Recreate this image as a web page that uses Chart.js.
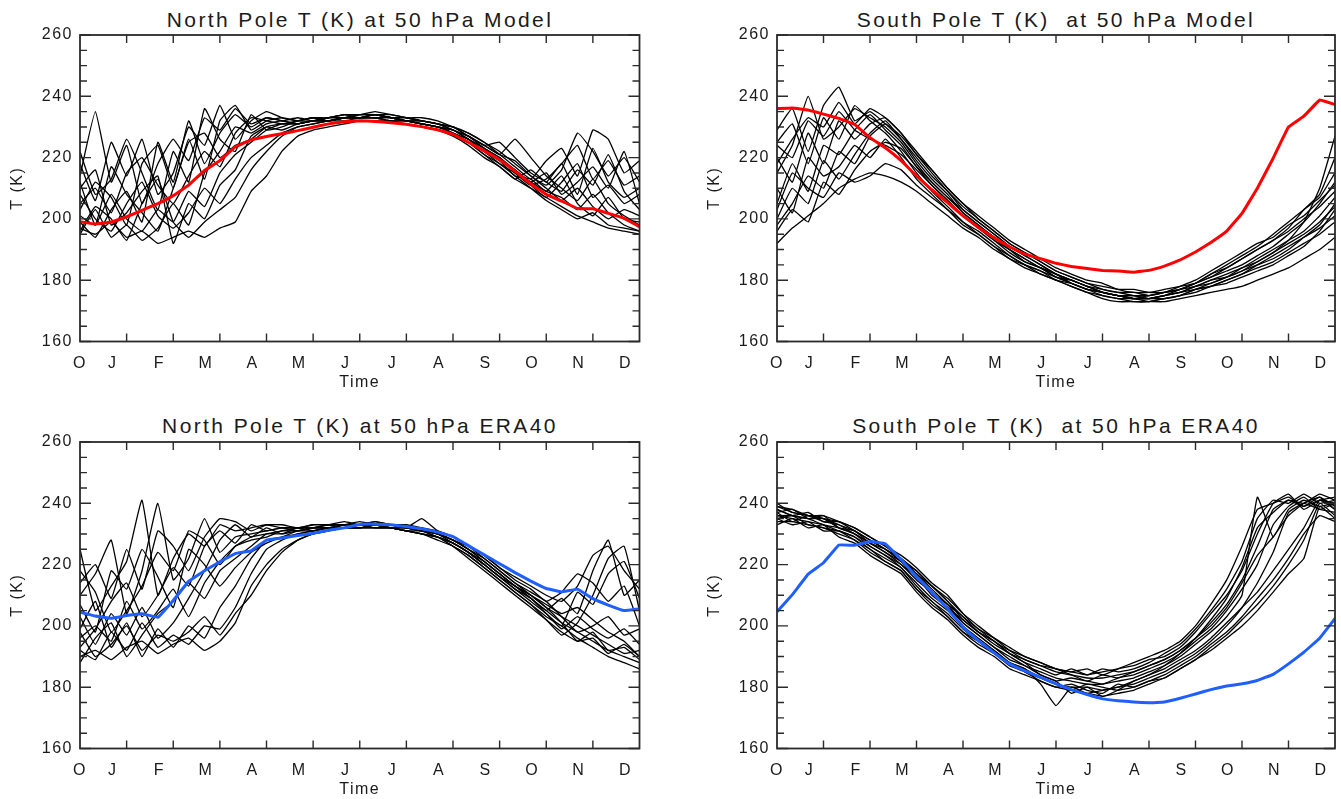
<!DOCTYPE html>
<html>
<head>
<meta charset="utf-8">
<script src="https://cdn.jsdelivr.net/npm/chart.js@4.4.1/dist/chart.umd.min.js"></script>
<style>
  body { margin: 0; width: 1341px; height: 799px; background: #fff; position: relative; overflow: hidden;
         font-family: "Liberation Sans", Arial, sans-serif; }
  .panel { position: absolute; }
  .title { position: absolute; width: 600px; margin-left: -300px; text-align: center; white-space: pre;
           font-size: 21px; line-height: 21px; letter-spacing: 2.4px; color: #1a1a1a; }
</style>
</head>
<body>
<div class="title" style="left:360px;top:9px">North Pole T (K) at 50 hPa Model</div>
<div class="title" style="left:1056px;top:9px">South Pole T (K)  at 50 hPa Model</div>
<div class="title" style="left:360px;top:415px">North Pole T (K) at 50 hPa ERA40</div>
<div class="title" style="left:1056px;top:415px">South Pole T (K)  at 50 hPa ERA40</div>
<canvas class="panel" id="npModel" width="660" height="392" style="left:0;top:0"></canvas>
<canvas class="panel" id="spModel" width="644" height="392" style="left:697px;top:0"></canvas>
<canvas class="panel" id="npEra" width="660" height="392" style="left:0;top:407px"></canvas>
<canvas class="panel" id="spEra" width="644" height="392" style="left:697px;top:407px"></canvas>
<script>
// x in months since the start of the axis, one value every third of a month
const monthGrid = [0, 0.33, 0.67, 1, 1.33, 1.67, 2, 2.33, 2.67, 3, 3.33, 3.67, 4, 4.33, 4.67, 5, 5.33, 5.67,
  6, 6.33, 6.67, 7, 7.33, 7.67, 8, 8.33, 8.67, 9, 9.33, 9.67, 10, 10.33, 10.67, 11, 11.33, 11.67, 12];
const monthLabels = ['O', 'J', 'F', 'M', 'A', 'M', 'J', 'J', 'A', 'S', 'O', 'N', 'D'];
const yTicks = [160, 180, 200, 220, 240, 260];

// North Pole, model
const npModelRed = [199.1, 198.3, 199.0, 200.7, 202.8, 205.0, 207.6, 211.0, 215.8, 219.0,
  223.5, 225.8, 226.9, 227.8, 228.8, 229.9, 231.0, 231.7, 232.0, 231.8,
  231.4, 230.9, 230.1, 229.1, 227.6, 225.0, 222.2, 219.3, 215.6, 211.4,
  208.0, 205.8, 203.4, 203.3, 201.8, 200.2, 197.5];
const npModelMembers = [
  [214, 235, 212, 224, 205, 218, 226, 219, 233, 229, 236, 231, 233, 232, 231, 232, 232, 233, 233, 234, 233, 232, 232, 231, 230, 228, 225, 222, 218, 214, 211, 216, 228, 222, 214, 220, 212],
  [197, 195, 199, 194, 196, 192, 194, 196, 194, 197, 199, 209, 214, 222, 227, 229, 230, 231, 232, 232, 232, 231, 230, 229, 227, 224, 220, 217, 213, 210, 207, 204, 201, 199, 197, 196, 195],
  [205, 210, 202, 215, 220, 211, 205, 214, 222, 217, 228, 233, 232, 231, 232, 233, 233, 234, 234, 235, 234, 233, 232, 231, 229, 227, 224, 221, 226, 220, 214, 210, 206, 213, 205, 201, 198],
  [201, 198, 208, 200, 196, 203, 199, 209, 204, 215, 221, 225, 229, 231, 231, 232, 233, 233, 233, 234, 233, 232, 231, 230, 228, 226, 223, 219, 216, 212, 209, 207, 203, 208, 202, 198, 196],
  [218, 206, 225, 214, 226, 208, 215, 230, 224, 237, 226, 232, 235, 233, 232, 233, 232, 233, 234, 234, 233, 233, 232, 231, 230, 227, 224, 221, 217, 213, 219, 223, 214, 229, 226, 215, 219],
  [208, 200, 196, 205, 212, 201, 197, 202, 210, 205, 213, 220, 224, 228, 230, 231, 232, 232, 233, 233, 233, 232, 231, 230, 229, 226, 222, 218, 215, 211, 207, 212, 218, 207, 211, 205, 208],
  [195, 203, 194, 198, 193, 197, 205, 198, 215, 222, 230, 228, 231, 232, 231, 232, 233, 233, 234, 234, 234, 233, 233, 232, 230, 228, 225, 221, 219, 214, 210, 206, 210, 204, 200, 203, 201],
  [199, 194, 203, 209, 199, 225, 212, 232, 218, 228, 234, 230, 233, 232, 233, 232, 233, 234, 233, 234, 233, 232, 231, 230, 229, 226, 223, 220, 216, 212, 215, 208, 212, 217, 210, 222, 205],
  [210, 216, 198, 202, 209, 214, 192, 205, 200, 211, 216, 227, 230, 229, 231, 232, 232, 233, 233, 233, 232, 232, 231, 230, 228, 225, 221, 218, 214, 210, 206, 203, 200, 202, 198, 197, 196],
  [222, 208, 213, 226, 215, 203, 222, 212, 236, 226, 222, 234, 229, 230, 232, 233, 232, 233, 233, 234, 233, 232, 232, 231, 229, 227, 223, 220, 215, 211, 213, 218, 224, 213, 219, 211, 214],
  [203, 212, 207, 198, 218, 224, 210, 226, 213, 232, 237, 229, 232, 233, 232, 232, 233, 234, 234, 234, 233, 233, 232, 231, 230, 227, 224, 225, 220, 215, 212, 209, 216, 211, 221, 209, 203],
  [212, 198, 217, 208, 202, 196, 210, 225, 228, 220, 224, 226, 230, 231, 231, 232, 232, 233, 233, 233, 233, 232, 231, 230, 229, 226, 222, 219, 214, 213, 209, 214, 205, 201, 207, 200, 199],
  [196, 204, 200, 193, 205, 213, 199, 194, 199, 203, 207, 216, 222, 227, 230, 231, 232, 233, 233, 233, 232, 232, 231, 230, 228, 225, 221, 217, 213, 216, 212, 218, 208, 223, 212, 207, 210]
];

// South Pole, model
const spModelRed = [236.0, 236.2, 235.5, 234.2, 232.8, 230.8, 226.5, 223.2, 219.0, 214.0,
  209.5, 205.3, 201.0, 197.2, 193.8, 190.9, 188.5, 187.0, 185.5, 184.5,
  183.8, 183.2, 183.0, 182.6, 183.2, 184.6, 186.6, 189.2, 192.3, 196.0,
  201.8, 210.0, 219.8, 230.0, 233.5, 238.8, 237.3];
const spModelMembers = [
  [229, 236, 222, 237, 243, 232, 235, 231, 226, 220, 214, 209, 204, 200, 196, 192, 189, 186, 183, 181, 179, 178, 177, 177, 176, 177, 178, 179, 181, 183, 185, 188, 191, 195, 199, 205, 212],
  [192, 197, 201, 205, 210, 213, 215, 214, 212, 209, 205, 201, 197, 194, 190, 187, 184, 182, 180, 178, 176, 175, 174, 174, 174, 175, 176, 177, 178, 180, 182, 184, 186, 189, 192, 195, 199],
  [215, 224, 240, 226, 230, 236, 233, 230, 225, 218, 212, 207, 202, 198, 194, 190, 187, 184, 182, 180, 178, 176, 175, 174, 174, 174, 175, 177, 178, 180, 182, 185, 188, 191, 194, 197, 201],
  [220, 212, 228, 218, 232, 226, 231, 233, 228, 222, 216, 210, 205, 201, 197, 193, 190, 187, 184, 182, 180, 179, 177, 176, 176, 176, 177, 179, 181, 184, 187, 190, 193, 197, 203, 208, 220],
  [205, 218, 209, 224, 221, 229, 234, 229, 224, 217, 211, 206, 201, 197, 193, 189, 186, 184, 181, 179, 177, 175, 174, 173, 173, 174, 175, 176, 178, 179, 181, 183, 185, 188, 191, 196, 203],
  [198, 205, 214, 210, 222, 218, 227, 231, 227, 221, 215, 209, 203, 199, 195, 191, 188, 185, 182, 180, 178, 176, 175, 174, 175, 176, 177, 179, 182, 185, 188, 191, 195, 199, 203, 207, 215],
  [225, 231, 218, 233, 226, 237, 232, 228, 222, 215, 209, 204, 199, 195, 191, 188, 185, 182, 180, 178, 176, 174, 173, 173, 173, 173, 174, 175, 176, 177, 178, 180, 182, 184, 187, 190, 194],
  [210, 202, 220, 214, 217, 224, 220, 226, 220, 213, 208, 203, 198, 195, 191, 187, 185, 183, 180, 179, 177, 176, 175, 175, 175, 176, 178, 180, 183, 186, 189, 192, 194, 198, 201, 206, 211],
  [200, 210, 205, 219, 213, 221, 228, 232, 226, 219, 213, 208, 202, 198, 194, 190, 186, 184, 181, 180, 178, 177, 176, 175, 174, 175, 176, 178, 180, 182, 184, 187, 190, 193, 196, 201, 207],
  [218, 226, 233, 230, 238, 231, 236, 233, 228, 221, 216, 210, 205, 200, 196, 192, 189, 186, 183, 181, 179, 177, 176, 176, 175, 176, 177, 178, 180, 181, 183, 186, 189, 193, 199, 210, 227],
  [196, 203, 199, 212, 208, 216, 222, 225, 223, 217, 212, 207, 203, 199, 195, 191, 188, 185, 182, 180, 178, 176, 175, 174, 174, 175, 176, 178, 179, 181, 184, 186, 189, 192, 195, 199, 204],
  [224, 220, 232, 227, 235, 229, 226, 224, 221, 216, 211, 206, 201, 197, 193, 190, 187, 184, 182, 179, 177, 176, 175, 174, 173, 174, 175, 177, 179, 181, 183, 185, 187, 190, 194, 198, 205],
  [203, 215, 210, 207, 215, 212, 214, 218, 216, 211, 207, 203, 199, 196, 192, 188, 185, 183, 181, 179, 177, 176, 175, 175, 174, 175, 177, 179, 182, 184, 187, 190, 193, 196, 200, 204, 209]
];

// North Pole, ERA40
const npEraBlue = [204.5, 203.2, 202.5, 203.4, 204.0, 202.8, 208.3, 214.5, 218.0, 220.9,
  223.6, 224.5, 228.0, 228.7, 229.5, 230.2, 231.2, 232.0, 233.1, 233.2,
  233.0, 232.4, 231.7, 230.6, 229.1, 226.2, 223.2, 220.3, 217.4, 214.6,
  212.2, 211.1, 212.0, 208.9, 206.8, 205.0, 205.6];
const npEraMembers = [
  [225, 205, 213, 221, 241, 210, 222, 230, 226, 233, 231, 232, 233, 232, 232, 233, 233, 233, 234, 233, 233, 232, 235, 231, 229, 226, 223, 219, 216, 213, 210, 208, 213, 223, 226, 218, 212],
  [190, 192, 189, 193, 195, 191, 194, 196, 192, 195, 201, 213, 220, 225, 228, 230, 231, 232, 232, 232, 232, 231, 230, 229, 227, 224, 221, 217, 213, 209, 205, 201, 198, 195, 192, 190, 188],
  [210, 217, 228, 204, 218, 240, 215, 222, 235, 224, 229, 230, 231, 232, 231, 232, 233, 232, 233, 233, 232, 232, 231, 230, 228, 225, 222, 218, 214, 210, 206, 203, 200, 197, 194, 191, 192],
  [196, 200, 195, 208, 199, 205, 212, 203, 214, 221, 226, 228, 229, 231, 231, 232, 232, 233, 233, 233, 233, 232, 231, 229, 227, 224, 220, 216, 212, 208, 204, 199, 203, 199, 196, 199, 194],
  [203, 194, 204, 197, 206, 196, 201, 209, 218, 228, 233, 229, 232, 230, 232, 231, 232, 232, 232, 233, 232, 231, 230, 228, 226, 223, 219, 215, 211, 207, 202, 197, 201, 210, 222, 226, 205],
  [192, 189, 198, 192, 201, 193, 197, 194, 200, 199, 206, 217, 225, 228, 230, 231, 232, 232, 233, 233, 233, 232, 231, 230, 228, 225, 221, 217, 213, 210, 207, 204, 206, 202, 198, 195, 190],
  [214, 220, 209, 225, 212, 231, 226, 218, 229, 235, 234, 231, 233, 233, 232, 233, 233, 234, 233, 234, 233, 233, 232, 231, 229, 226, 223, 219, 215, 212, 208, 211, 217, 214, 208, 213, 200],
  [199, 208, 193, 201, 190, 199, 193, 200, 196, 206, 213, 222, 228, 229, 231, 231, 232, 232, 233, 232, 232, 231, 230, 229, 226, 223, 219, 215, 211, 207, 203, 200, 196, 193, 190, 188, 186],
  [188, 196, 201, 190, 197, 204, 208, 214, 209, 218, 222, 226, 230, 230, 231, 232, 232, 233, 233, 233, 232, 232, 231, 230, 227, 224, 220, 216, 213, 209, 205, 209, 204, 218, 228, 210, 215],
  [207, 198, 218, 212, 225, 216, 206, 225, 220, 213, 219, 224, 227, 229, 230, 231, 232, 232, 232, 233, 232, 231, 231, 230, 228, 226, 222, 218, 214, 211, 208, 203, 198, 200, 203, 197, 199],
  [193, 199, 208, 214, 203, 210, 219, 213, 226, 231, 227, 233, 231, 232, 232, 232, 233, 233, 233, 234, 233, 232, 232, 230, 228, 225, 221, 217, 213, 210, 206, 201, 195, 198, 192, 193, 189],
  [218, 211, 198, 205, 213, 224, 218, 231, 228, 220, 226, 229, 230, 231, 232, 232, 232, 233, 233, 233, 233, 232, 231, 229, 227, 224, 220, 216, 212, 209, 204, 200, 211, 207, 217, 221, 209],
  [198, 190, 194, 200, 192, 197, 195, 198, 203, 197, 204, 210, 218, 224, 228, 230, 231, 232, 232, 232, 232, 231, 230, 229, 226, 222, 218, 214, 210, 206, 202, 198, 195, 196, 191, 194, 190]
];

// South Pole, ERA40
const spEraBlue = [204.6, 210.2, 216.9, 220.6, 226.4, 226.3, 227.5, 226.8, 221.7, 216.0,
  211.0, 205.6, 199.6, 195.2, 191.2, 187.6, 185.3, 183.2, 181.1, 179.2,
  177.6, 176.2, 175.6, 175.2, 174.9, 175.2, 176.4, 177.8, 179.2, 180.4,
  181.1, 182.2, 184.2, 187.6, 191.4, 196.0, 202.4];
const spEraMembers = [
  [240, 237, 236, 235, 233, 231, 228, 225, 222, 217, 212, 207, 201, 197, 193, 190, 187, 185, 183, 182, 181, 181, 182, 183, 185, 187, 190, 194, 198, 203, 210, 242, 229, 238, 241, 239, 240],
  [236, 235, 234, 233, 231, 229, 226, 223, 219, 214, 209, 205, 200, 196, 192, 188, 186, 183, 181, 180, 180, 179, 180, 181, 183, 185, 188, 191, 195, 200, 206, 214, 224, 237, 240, 238, 237],
  [238, 236, 237, 234, 234, 232, 229, 226, 223, 219, 214, 210, 204, 199, 196, 192, 189, 187, 185, 184, 183, 183, 184, 185, 187, 189, 192, 196, 201, 207, 215, 226, 238, 241, 239, 242, 239],
  [234, 234, 233, 232, 230, 228, 224, 221, 218, 212, 207, 203, 198, 194, 191, 187, 185, 182, 180, 179, 178, 177, 178, 179, 181, 183, 186, 189, 193, 197, 202, 207, 213, 220, 228, 240, 236],
  [237, 238, 235, 236, 232, 230, 227, 224, 220, 215, 211, 206, 202, 198, 194, 191, 188, 186, 184, 186, 184, 185, 186, 187, 189, 190, 193, 198, 204, 210, 218, 230, 240, 243, 238, 241, 242],
  [235, 233, 234, 231, 231, 229, 225, 222, 219, 213, 208, 204, 199, 195, 192, 188, 186, 181, 174, 180, 178, 179, 180, 182, 184, 186, 189, 192, 196, 201, 206, 211, 218, 225, 232, 241, 238],
  [239, 237, 236, 235, 234, 231, 228, 225, 221, 216, 211, 207, 203, 198, 195, 191, 189, 187, 186, 185, 184, 186, 185, 186, 188, 191, 194, 199, 205, 212, 221, 235, 241, 240, 243, 240, 241],
  [233, 235, 232, 233, 229, 227, 223, 220, 217, 211, 206, 202, 197, 193, 190, 186, 184, 182, 180, 181, 179, 178, 181, 180, 182, 184, 187, 190, 194, 198, 203, 209, 215, 222, 230, 236, 234],
  [236, 236, 235, 233, 232, 230, 226, 223, 220, 216, 210, 206, 201, 197, 193, 189, 187, 184, 182, 183, 182, 181, 183, 184, 186, 188, 191, 195, 199, 205, 212, 220, 233, 239, 242, 238, 240],
  [237, 234, 236, 234, 233, 230, 227, 224, 221, 217, 213, 208, 203, 199, 195, 192, 190, 188, 186, 184, 182, 184, 183, 185, 187, 189, 192, 196, 200, 206, 214, 223, 229, 236, 240, 242, 238],
  [238, 236, 235, 235, 232, 231, 227, 225, 221, 218, 213, 209, 204, 200, 196, 193, 190, 188, 186, 185, 186, 184, 186, 188, 190, 192, 195, 200, 207, 215, 226, 238, 240, 242, 239, 241, 240],
  [235, 236, 233, 232, 231, 228, 225, 221, 218, 212, 208, 203, 198, 195, 191, 188, 185, 183, 181, 179, 181, 180, 179, 180, 182, 183, 186, 189, 192, 196, 200, 205, 211, 217, 222, 239, 235],
  [239, 238, 236, 236, 234, 232, 229, 226, 222, 218, 213, 208, 202, 198, 195, 191, 188, 184, 182, 178, 180, 177, 179, 182, 184, 187, 191, 196, 202, 209, 219, 232, 237, 241, 240, 243, 241]
];

Chart.defaults.font.family = '"Liberation Sans", Arial, sans-serif';
Chart.defaults.color = '#1a1a1a';

const axisFont = { size: 16 };

// IDL-like wide text for tick labels and axis titles
const spacedText = {
  id: 'spacedText',
  beforeDraw(chart) {
    chart.ctx.letterSpacing = '1.5px';
  },
};

// box round the plot area, with inward ticks on all four sides
const frameTicks = {
  id: 'frameTicks',
  afterDatasetsDraw(chart) {
    const { ctx, chartArea: a, scales } = chart;
    const x = scales.x;
    const y = scales.y;
    ctx.save();
    ctx.strokeStyle = '#2a2a2a';
    ctx.lineWidth = 1.8;
    ctx.strokeRect(a.left, a.top, a.right - a.left, a.bottom - a.top);
    ctx.lineWidth = 1.4;
    ctx.beginPath();
    for (let v = y.min; v <= y.max; v += 5) {
      const py = y.getPixelForValue(v);
      const len = v % 20 === 0 ? 11 : 7;
      ctx.moveTo(a.left, py);
      ctx.lineTo(a.left + len, py);
      ctx.moveTo(a.right, py);
      ctx.lineTo(a.right - len, py);
    }
    for (let m = x.min + 1; m < x.max; m++) {
      const px = x.getPixelForValue(m);
      ctx.moveTo(px, a.bottom);
      ctx.lineTo(px, a.bottom - 8);
      ctx.moveTo(px, a.top);
      ctx.lineTo(px, a.top + 8);
    }
    ctx.stroke();
    ctx.restore();
  },
};

function toPoints(values) {
  return values.map((v, i) => ({ x: monthGrid[i], y: v }));
}

function makePanel(canvasId, members, mean, meanColor, rightPad) {
  const datasets = [
    {
      data: toPoints(mean),
      borderColor: meanColor,
      borderWidth: 3,
      pointRadius: 0,
      tension: 0.05,
      order: 0,
    },
    ...members.map((m) => ({
      data: toPoints(m),
      borderColor: '#000',
      borderWidth: 1.3,
      pointRadius: 0,
      tension: 0.12,
      order: 1,
    })),
  ];

  return new Chart(document.getElementById(canvasId), {
    type: 'line',
    data: { datasets },
    plugins: [spacedText, frameTicks],
    options: {
      responsive: false,
      animation: false,
      devicePixelRatio: 1,
      layout: { padding: { top: 35, right: rightPad, left: 0, bottom: 0 } },
      plugins: { legend: { display: false }, tooltip: { enabled: false } },
      scales: {
        x: { type: 'linear', min: 0, max: 12, display: false },
        xl: {
          type: 'linear',
          position: 'bottom',
          min: 0,
          max: 12,
          grid: { display: false, drawTicks: false },
          border: { display: false },
          afterBuildTicks: (scale) => {
            scale.ticks = monthLabels.map((_, i) => ({ value: i === 0 ? 0 : i - 0.3 }));
          },
          afterFit: (scale) => {
            scale.height = 50.5;
          },
          ticks: {
            autoSkip: false,
            maxRotation: 0,
            padding: 12,
            font: axisFont,
            callback: (value, index) => monthLabels[index],
          },
          title: { display: true, text: 'Time', font: axisFont, padding: { top: 0, bottom: 0 } },
        },
        y: {
          min: 160,
          max: 260,
          afterBuildTicks: (scale) => {
            scale.ticks = yTicks.map((v) => ({ value: v }));
          },
          afterFit: (scale) => {
            scale.width = 80;
          },
          grid: { display: false, drawTicks: false },
          border: { display: false },
          ticks: { padding: 7, font: axisFont },
          title: { display: true, text: 'T (K)', font: axisFont, padding: { top: 8, bottom: 0 } },
        },
      },
    },
  });
}

makePanel('npModel', npModelMembers, npModelRed, '#ff0000', 20.5);
makePanel('spModel', spModelMembers, spModelRed, '#ff0000', 6);
makePanel('npEra', npEraMembers, npEraBlue, '#1f5fff', 20.5);
makePanel('spEra', spEraMembers, spEraBlue, '#1f5fff', 6);
</script>
</body>
</html>
